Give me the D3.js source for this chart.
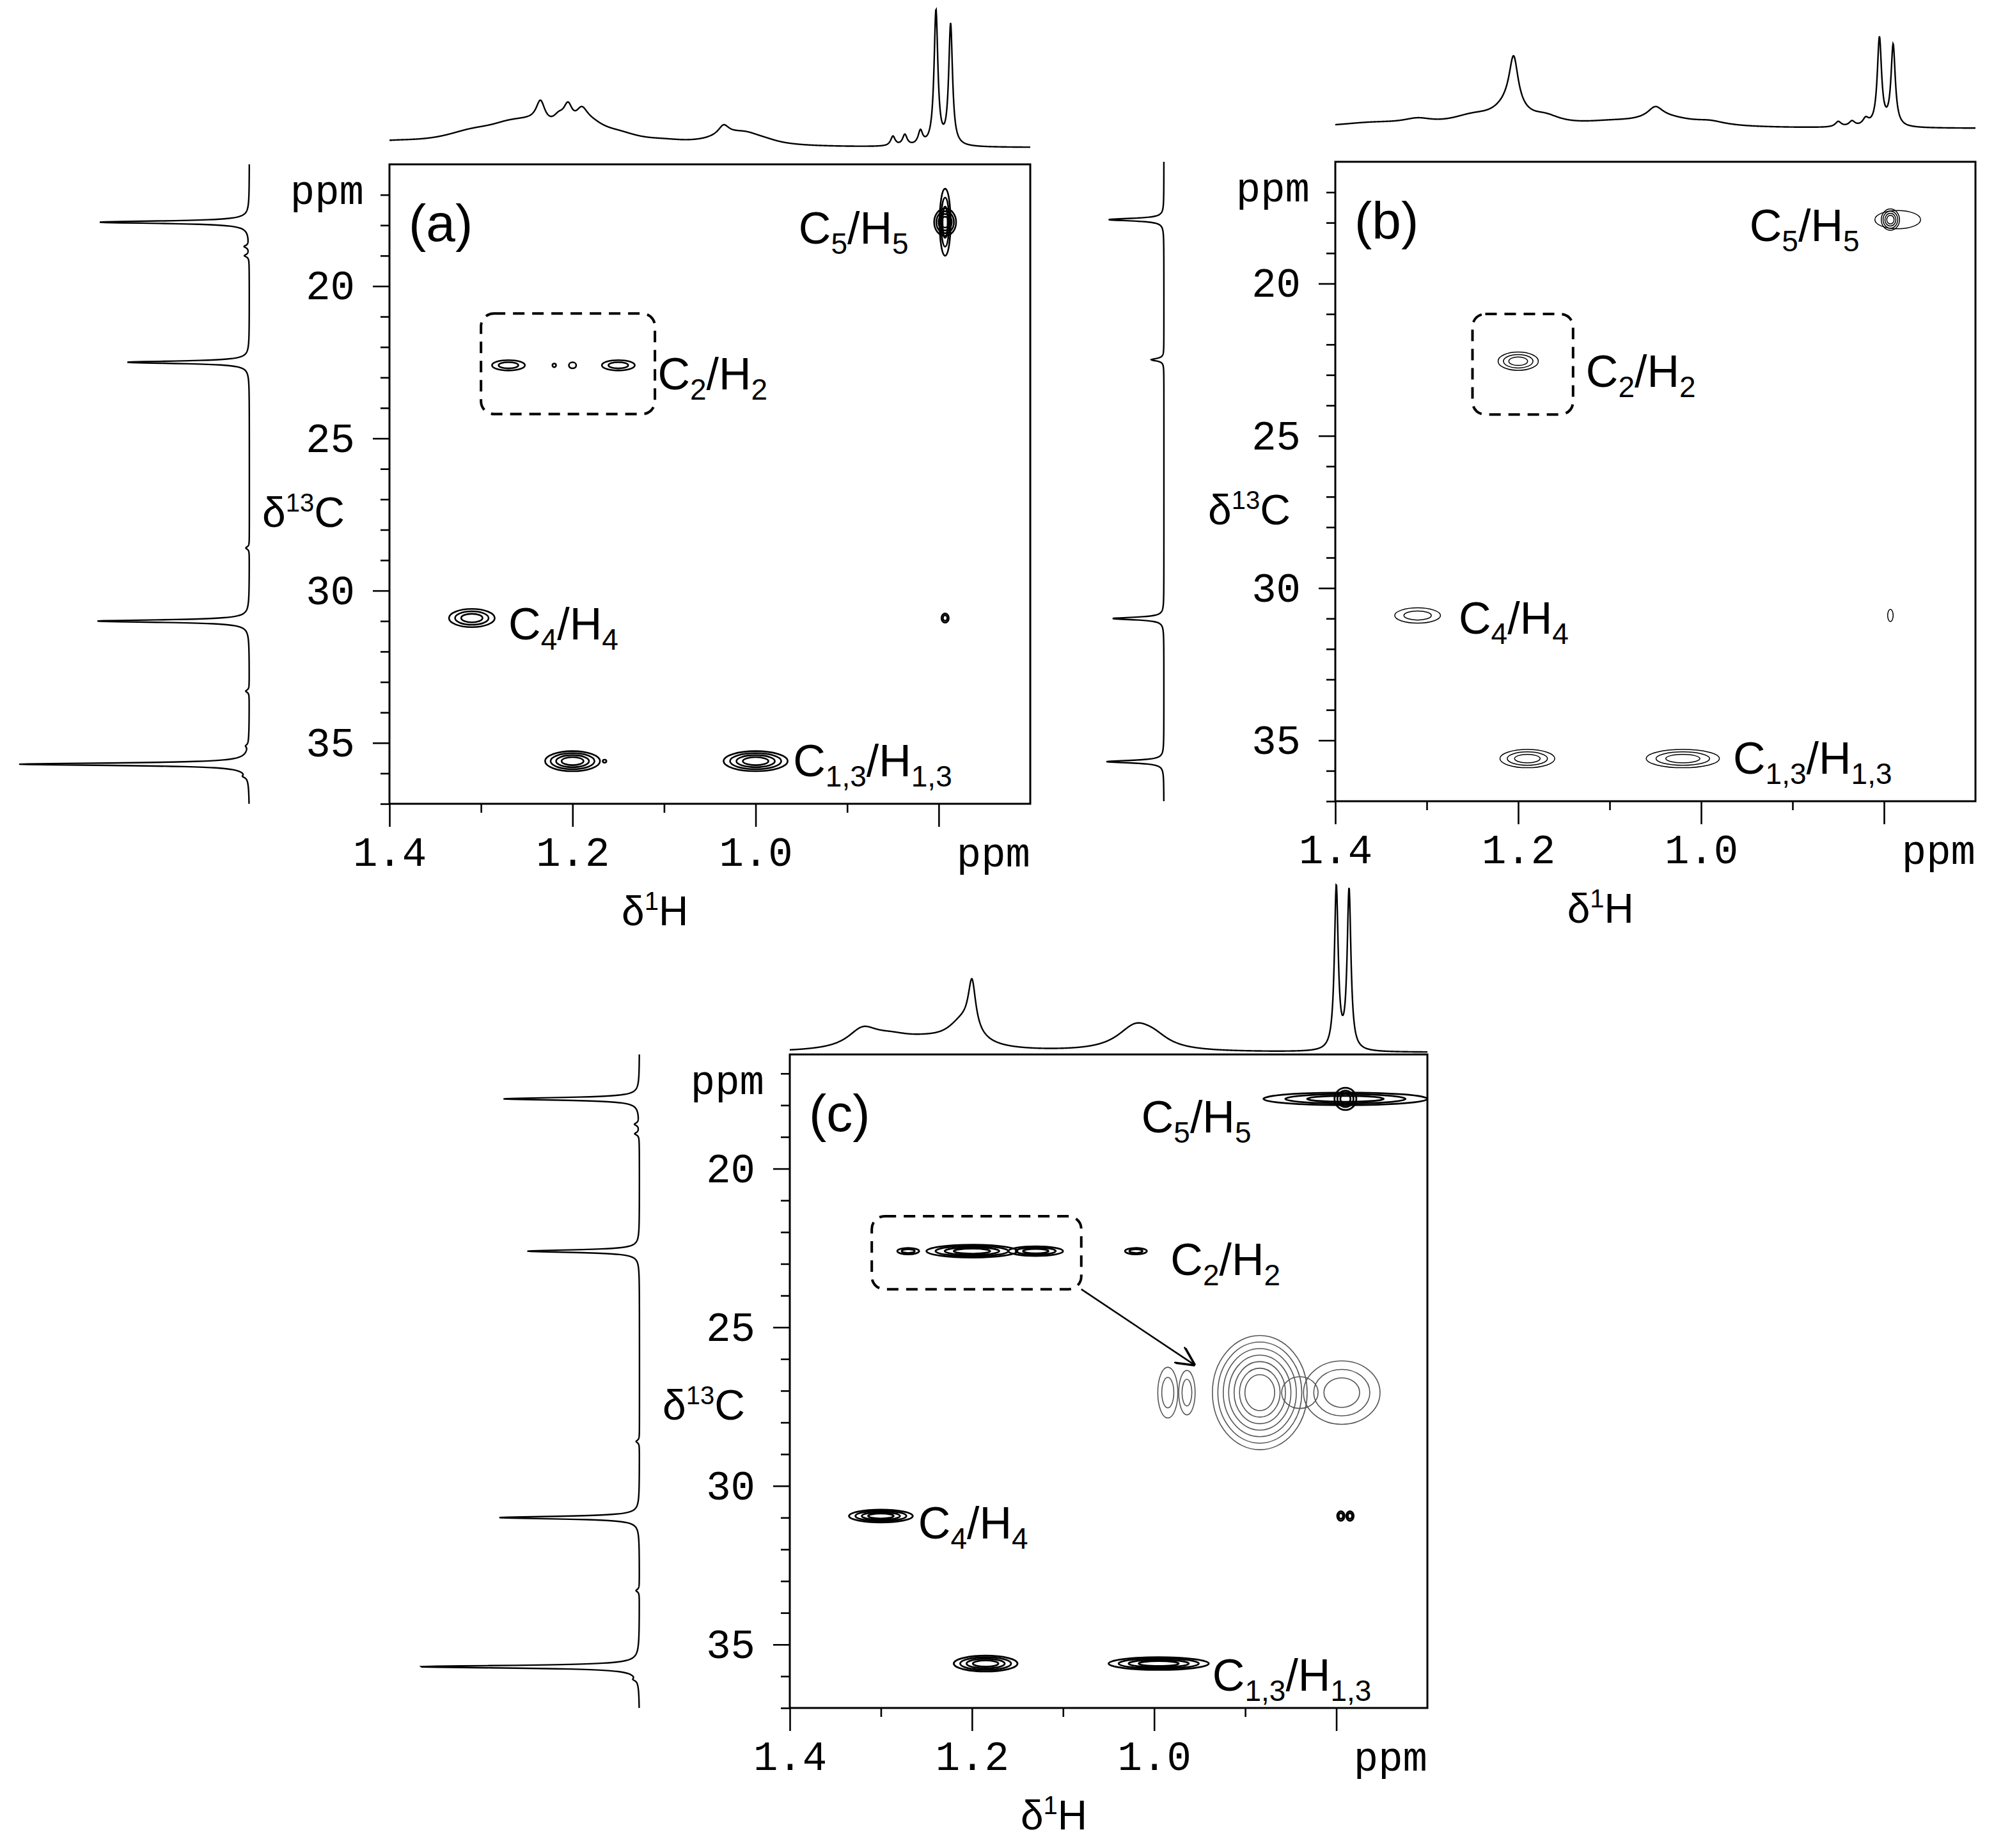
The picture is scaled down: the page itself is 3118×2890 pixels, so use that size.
<!DOCTYPE html>
<html><head><meta charset="utf-8">
<script src="https://cdn.jsdelivr.net/npm/d3@7/dist/d3.min.js"></script>
<style>body{margin:0;background:#fff}</style></head>
<body><svg id="c" width="3118" height="2890"></svg>
<script>
// ---------- data ----------
const panelNames = ["(a)","(b)","(c)"];
const xMajorTicks = [1.4, 1.2, 1.0, 0.8];
const xLabelTicks = [1.4, 1.2, 1.0];
const xMinorTicks = [1.3, 1.1, 0.9];
const yMajorTicks = [20, 25, 30, 35];
const yMinorTicks = [17,18,19,21,22,23,24,26,27,28,29,31,32,33,34,36,37];
const xDomain = [1.4, 0.7];
const yDomainAB = [16, 37];
const yDomainC = [16.4, 37];
// contour peaks: [1H ppm, 13C ppm, rx ppm, ry ppm, levels]
const contoursA = [[0.793,17.9,0.012,0.45,4],[0.793,17.9,0.006,1.1,3],[1.27,22.6,0.018,0.17,2],[1.22,22.6,0.002,0.06,1],[1.2,22.6,0.004,0.1,1],[1.15,22.6,0.018,0.17,2],[1.31,30.9,0.025,0.3,3],[1.2,35.6,0.03,0.33,4],[1.0,35.6,0.035,0.33,4],[1.165,35.6,0.002,0.05,1],[0.793,30.9,0.004,0.15,2]];
const contoursB = [[0.793,17.9,0.01,0.35,4],[0.785,17.9,0.025,0.3,1],[1.2,22.55,0.022,0.3,3],[1.31,30.9,0.025,0.25,2],[1.19,35.6,0.03,0.3,3],[1.02,35.6,0.04,0.3,3],[0.793,30.9,0.003,0.2,1]];
const contoursC = [[0.79,17.8,0.09,0.2,3],[0.79,17.8,0.012,0.35,3],[1.27,22.6,0.012,0.1,2],[1.2,22.6,0.05,0.2,4],[1.13,22.6,0.03,0.15,3],[1.02,22.6,0.012,0.1,2],[1.30,30.95,0.035,0.2,4],[1.185,35.6,0.035,0.25,4],[0.995,35.6,0.055,0.2,4],[0.795,30.95,0.004,0.15,2],[0.785,30.95,0.004,0.15,2]];
const insetC = [[0.985,27.06,0.011,0.8,2],[0.964,27.06,0.009,0.7,2],[0.884,27.06,0.052,1.8,7],[0.794,27.06,0.042,1.0,3],[0.84,27.06,0.02,0.5,1]];
const arrowC = [[1.08,23.8],[0.955,26.2]];
// dashed boxes [x1, x2, y1, y2]
const boxA = [1.30,1.11,20.9,24.2];
const boxB = [1.25,1.14,21.0,24.3];
const boxC = [1.31,1.08,21.5,23.8];
// labels [C sub, H sub, x, y]
const labelsA = [["5","5",0.953,18.6],["2","2",1.107,23.4],["4","4",1.27,31.6],["1,3","1,3",0.959,36.1]];
const labelsB = [["5","5",0.947,18.6],["2","2",1.126,23.4],["4","4",1.265,31.5],["1,3","1,3",0.965,36.1]];
const labelsC = [["5","5",1.014,18.86],["2","2",0.982,23.35],["4","4",1.259,31.65],["1,3","1,3",0.936,36.45]];
// 1H projection peaks [ppm, height, width]
const topA = [[1.4,0.03,0.05],[1.31,0.08,0.04],[1.27,0.08,0.03],[1.235,0.16,0.006],[1.245,0.1,0.03],[1.215,0.08,0.008],[1.205,0.15,0.006],[1.19,0.12,0.008],[1.18,0.1,0.02],[1.15,0.06,0.03],[1.1,0.02,0.03],[1.035,0.07,0.007],[1.03,0.06,0.03],[1.01,0.05,0.02],[0.99,0.02,0.02],[0.85,0.07,0.003],[0.837,0.08,0.003],[0.82,0.1,0.003],[0.803,0.98,0.0025],[0.787,0.88,0.0025]];
const topB = [[1.36,0.05,0.05],[1.31,0.06,0.02],[1.25,0.1,0.03],[1.205,0.55,0.006],[1.21,0.2,0.02],[1.17,0.08,0.02],[1.1,0.04,0.04],[1.05,0.12,0.01],[1.04,0.1,0.04],[0.99,0.04,0.02],[0.85,0.06,0.004],[0.835,0.06,0.004],[0.82,0.08,0.004],[0.805,0.98,0.0028],[0.79,0.9,0.0028]];
const topC = [[1.32,0.11,0.02],[1.29,0.06,0.03],[1.25,0.05,0.04],[1.2,0.3,0.005],[1.21,0.15,0.02],[1.02,0.15,0.025],[1.0,0.05,0.02],[0.8,1.0,0.0025],[0.786,0.98,0.0025]];
// 13C projection peaks [ppm, height, width]
const leftA = [[17.9,0.65,0.05],[18.7,0.02,0.05],[19.0,0.02,0.05],[22.5,0.53,0.05],[28.6,0.015,0.05],[31.0,0.66,0.05],[33.3,0.015,0.05],[35.1,0.01,0.05],[35.7,1.0,0.05],[36.1,0.015,0.05]];
const leftB = [[17.9,0.96,0.05],[22.5,0.22,0.05],[31.0,0.89,0.05],[35.7,1.0,0.05]];
const leftC = [[17.8,0.62,0.05],[18.6,0.02,0.05],[18.9,0.02,0.05],[22.6,0.51,0.05],[28.6,0.015,0.05],[31.0,0.64,0.05],[33.3,0.015,0.05],[35.7,1.0,0.05],[36.1,0.015,0.05]];

// ---------- layout ----------
const panels = [
 {tag:panelNames[0], L:609, R:1611, T:257, B:1257, yd:yDomainAB, cont:contoursA, box:boxA, labels:labelsA, top:topA, left:leftA, topBase:26, topH:215, leftBase:390, leftH:360, sw:2.6, xlab:1.11},
 {tag:panelNames[1], L:2088, R:3089, T:253, B:1253, yd:yDomainAB, cont:contoursB, box:boxB, labels:labelsB, top:topB, left:leftB, topBase:52, topH:141, leftBase:1820, leftH:90, sw:1.5, xlab:1.11},
 {tag:panelNames[2], L:1235, R:2232, T:1649, B:2671, yd:yDomainC, cont:contoursC, box:boxC, labels:labelsC, top:topC, left:leftC, topBase:3, topH:255, leftBase:1000, leftH:344, sw:2.8, xlab:1.11, inset:insetC, arrow:arrowC}
];
const svg = d3.select("#c");
svg.append("defs").append("marker").attr("id","arr").attr("viewBox","0 0 10 10").attr("refX",10).attr("refY",5)
 .attr("markerWidth",30).attr("markerHeight",30).attr("markerUnits","userSpaceOnUse").attr("orient","auto")
 .append("path").attr("d","M0,0 L10,5 L0,10").attr("fill","none").attr("stroke","#000").attr("stroke-width",1.2);
const mono = "'Liberation Mono','DejaVu Sans Mono',monospace";
const sans = "'Liberation Sans',Arial,sans-serif";
const lor = (pk, x) => pk.reduce((s,[p,h,w]) => s + h/(1+((x-p)/w)**2), 0);

panels.forEach(P => {
  const g = svg.append("g");
  const xs = d3.scaleLinear().domain(xDomain).range([P.L, P.R]);
  const ys = d3.scaleLinear().domain(P.yd).range([P.T, P.B]);
  g.append("rect").attr("x",P.L).attr("y",P.T).attr("width",P.R-P.L).attr("height",P.B-P.T)
   .attr("fill","none").attr("stroke","#000").attr("stroke-width",3);
  const xMinor = d3.axisBottom(xs).tickValues(xMinorTicks).tickSize(14).tickFormat("");
  const xMajor = d3.axisBottom(xs).tickValues(xMajorTicks).tickSize(36)
      .tickFormat(d => xLabelTicks.includes(d) ? d3.format(".1f")(d) : "").tickPadding(16);
  const yMinor = d3.axisLeft(ys).tickValues(yMinorTicks.filter(v=>v>=P.yd[0])).tickSize(14).tickFormat("");
  const yMajor = d3.axisLeft(ys).tickValues(yMajorTicks).tickSize(26).tickFormat(d3.format("d")).tickPadding(28);
  [[xMinor,"b"],[xMajor,"b"],[yMinor,"l"],[yMajor,"l"]].forEach(([ax,s]) => {
    const a = g.append("g").attr("transform", s==="b" ? `translate(0,${P.B})` : `translate(${P.L},0)`).call(ax);
    a.select(".domain").remove();
    a.selectAll("line").attr("stroke","#000").attr("stroke-width",2.6);
    a.selectAll("text").attr("font-family",mono).attr("font-size",64).attr("fill","#000");
  });
  g.append("text").attr("x",P.R).attr("y",P.B+98).attr("text-anchor","end").attr("font-family",mono).attr("font-size",64).text("ppm");
  g.append("text").attr("x",P.L-40).attr("y",P.T+62).attr("text-anchor","end").attr("font-family",mono).attr("font-size",64).text("ppm");
  const xl = g.append("text").attr("x",xs(P.xlab)).attr("y",P.B+190).attr("text-anchor","middle").attr("font-family",sans).attr("font-size",64);
  xl.append("tspan").text("δ"); xl.append("tspan").attr("font-size",40).attr("dy",-24).text("1"); xl.append("tspan").attr("dy",24).text("H");
  const yl = g.append("text").attr("x",P.L-70).attr("y",ys(27.9)).attr("text-anchor","end").attr("font-family",sans).attr("font-size",66);
  yl.append("tspan").text("δ"); yl.append("tspan").attr("font-size",40).attr("dy",-24).text("13"); yl.append("tspan").attr("dy",24).text("C");
  g.append("text").attr("x",P.L+30).attr("y",P.T+120).attr("font-family",sans).attr("font-size",82).text(P.tag);
  const drawC = (list, sw, col) => list.forEach(([x,y,rx,ry,n]) => {
    for (let k=0;k<n;k++){
      const f = 1 - k/Math.max(n,1)*0.8;
      g.append("ellipse").attr("cx",xs(x)).attr("cy",ys(y))
       .attr("rx",Math.abs(xs(x+rx*f)-xs(x))).attr("ry",Math.abs(ys(y+ry*f)-ys(y)))
       .attr("fill","none").attr("stroke",col).attr("stroke-width",sw);
    }
  });
  drawC(P.cont, P.sw, "#000");
  if (P.inset) drawC(P.inset, 1.6, "#555");
  if (P.arrow) g.append("line").attr("x1",xs(P.arrow[0][0])).attr("y1",ys(P.arrow[0][1]))
      .attr("x2",xs(P.arrow[1][0])).attr("y2",ys(P.arrow[1][1])).attr("stroke","#000").attr("stroke-width",2.6).attr("marker-end","url(#arr)");
  const [bx1,bx2,by1,by2] = P.box;
  g.append("rect").attr("x",xs(bx1)).attr("y",ys(by1)).attr("width",xs(bx2)-xs(bx1)).attr("height",ys(by2)-ys(by1))
   .attr("rx",20).attr("fill","none").attr("stroke","#000").attr("stroke-width",4).attr("stroke-dasharray","18,12");
  P.labels.forEach(([cs,hs,x,y]) => {
    const t = g.append("text").attr("x",xs(x)).attr("y",ys(y)).attr("font-family",sans).attr("font-size",70);
    t.append("tspan").text("C"); t.append("tspan").attr("font-size",46).attr("dy",16).text(cs);
    t.append("tspan").attr("dy",-16).text("/H"); t.append("tspan").attr("font-size",46).attr("dy",16).text(hs);
  });
  const hx = d3.range(0,1601).map(i => xDomain[0] + (xDomain[1]-xDomain[0])*i/1600);
  const ty = d3.scaleLinear().domain([0,1]).range([P.T-P.topBase, P.T-P.topBase-P.topH]);
  g.append("path").attr("d", d3.line().x(d=>xs(d)).y(d=>ty(lor(P.top,d)))(hx)).attr("fill","none").attr("stroke","#000").attr("stroke-width",2.4);
  const cy = d3.range(0,2101).map(i => P.yd[0] + (P.yd[1]-P.yd[0])*i/2100);
  const lx = d3.scaleLinear().domain([0,1]).range([P.leftBase, P.leftBase-P.leftH]);
  g.append("path").attr("d", d3.line().x(d=>lx(lor(P.left,d))).y(d=>ys(d))(cy)).attr("fill","none").attr("stroke","#000").attr("stroke-width",2.4);
});
</script></body></html>
